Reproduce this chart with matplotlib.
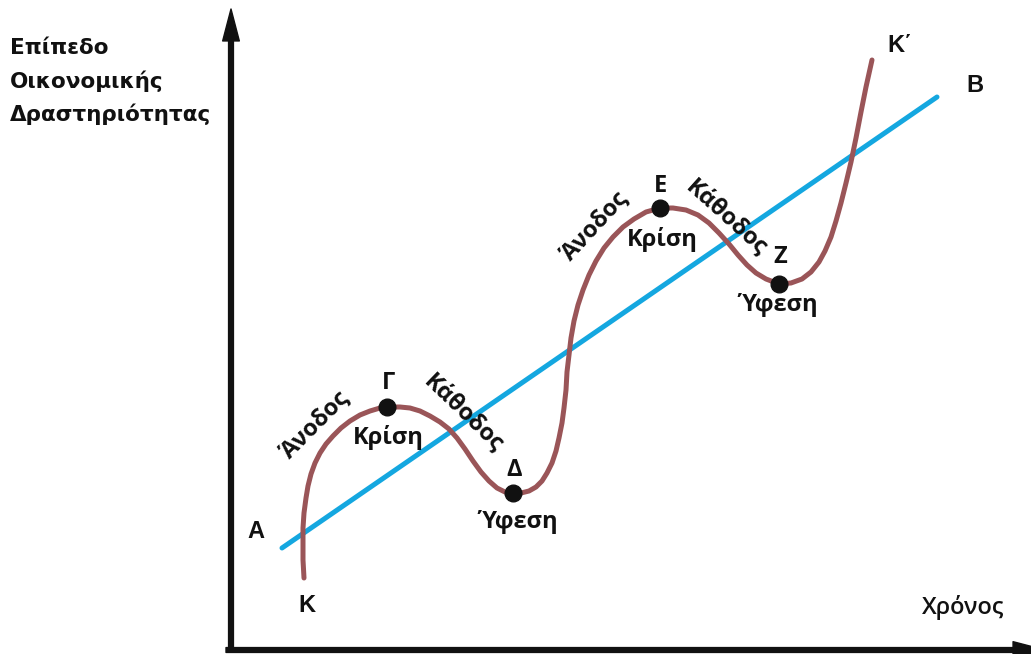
import matplotlib.pyplot as plt
from matplotlib.patches import FancyArrowPatch

plt.rcParams['font.family'] = ['Liberation Sans', 'DejaVu Sans']

# Κύκλος οικονομικής δραστηριότητας (συντεταγμένες σε pixel της εικόνας)
cycle_x = [304, 303, 303, 303, 304, 306, 308, 311, 315, 320, 326, 333, 341, 350,
           360, 370, 380, 390, 400, 410, 420, 430, 440, 449, 457, 465, 473, 481,
           489, 497, 505, 513, 521, 529, 536, 542, 547, 552, 556, 559, 562, 564,
           566, 567, 569, 571, 574, 578, 583, 589, 596, 604, 613, 623, 634, 646,
           660, 673, 686, 698, 709, 719, 729, 738, 747, 756, 766, 779, 791, 802,
           811, 819, 825, 831, 836, 841, 846, 851, 856, 861, 866, 872]
cycle_y = [578, 560, 543, 528, 513, 498, 486, 474, 463, 453, 444, 436, 428, 421,
           415, 411, 408, 407, 407, 408, 411, 416, 422, 429, 438, 449, 461, 472,
           481, 488, 492, 493, 493, 491, 487, 481, 473, 463, 451, 438, 423, 408,
           390, 372, 355, 338, 321, 305, 290, 275, 261, 248, 237, 227, 219, 212,
           208, 208, 210, 215, 223, 233, 244, 255, 265, 273, 279, 284, 283, 279,
           272, 262, 251, 237, 221, 203, 183, 162, 138, 112, 87, 60]

# Γραμμή τάσης A -> B
trend_x = [282, 937]
trend_y = [548, 97]

# Σημεία καμπής
turn_names = ['Γ', 'Δ', 'Ε', 'Ζ']
turn_x = [387, 513, 660, 779]
turn_y = [407, 493, 208, 284]

brown = '#9a5558'
blue = '#14a7e0'
ink = '#111111'

fig = plt.figure(figsize=(10.31, 6.54), dpi=100)
ax = fig.add_axes([0, 0, 1, 1])
ax.set_xlim(0, 1031)
ax.set_ylim(654, 0)
ax.axis('off')

# άξονες με βέλη
arrow = 'Simple,tail_width=3.5,head_width=12,head_length=23'
ax.add_patch(FancyArrowPatch((231, 652), (231, 9), arrowstyle=arrow,
                             color=ink, mutation_scale=1, shrinkA=0, shrinkB=0))
ax.add_patch(FancyArrowPatch((226, 650), (1045, 650), arrowstyle=arrow,
                             color=ink, mutation_scale=1, shrinkA=0, shrinkB=0))

ax.plot(trend_x, trend_y, color=blue, lw=3.6, solid_capstyle='round')
ax.plot(cycle_x, cycle_y, color=brown, lw=3.6, solid_capstyle='round',
        solid_joinstyle='round')
ax.plot(turn_x, turn_y, 'o', color=ink, ms=12, zorder=5)

# ετικέτα άξονα y
ylab = dict(fontsize=15.5, fontweight='bold', color=ink, va='center',
            family=['DejaVu Sans'])
ax.text(10, 48, 'Επίπεδο', **ylab)
ax.text(10, 81, 'Οικονομικής', **ylab)
ax.text(10, 114, 'Δραστηριότητας', **ylab)

lab = dict(fontsize=17, color=ink, ha='center', va='center',
           family=['Open Sans', 'DejaVu Sans'], fontweight='bold')
ax.text(963, 607, 'Χρόνος', fontsize=17, color=ink, ha='center', va='center',
        family=['Open Sans', 'DejaVu Sans'], fontweight='semibold')

big = dict(fontsize=17, fontweight='bold', color=ink, ha='center', va='center')
ax.text(256, 532, 'A', **big)
ax.text(975, 85, 'B', **big)
ax.text(307, 605, 'K', **big)
ax.text(900, 45, 'K΄', **big)

offsets = [-24, -23, -22, -27]
for n, x, y, d in zip(turn_names, turn_x, turn_y, offsets):
    ax.text(x + 1, y + d, n, **lab)

ax.text(388, 437, 'Κρίση', **lab)
ax.text(662, 240, 'Κρίση', **lab)
ax.text(518, 522, 'Ύφεση', **lab)
ax.text(778, 305, 'Ύφεση', **lab)

ax.text(316, 425, 'Άνοδος', rotation=45, rotation_mode='anchor', **lab)
ax.text(595, 227, 'Άνοδος', rotation=47, rotation_mode='anchor', **lab)
ax.text(463, 414, 'Κάθοδος', rotation=-44, rotation_mode='anchor', **lab)
ax.text(726, 218, 'Κάθοδος', rotation=-42, rotation_mode='anchor', **lab)

fig.savefig('out.png', dpi=100, facecolor='white')
